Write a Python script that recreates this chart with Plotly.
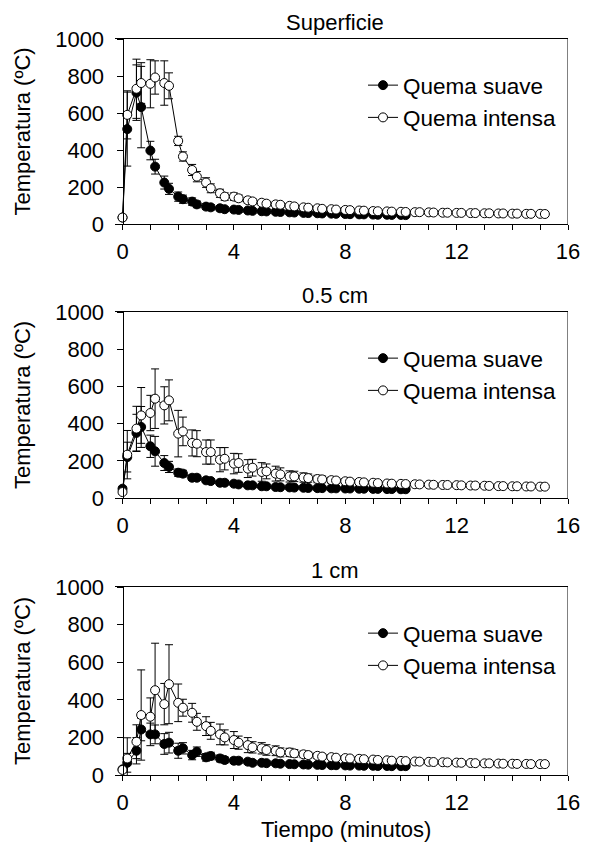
import plotly.graph_objects as go

# ---------------- data ----------------
TIME = [0, 0.17, 0.5, 0.67, 1, 1.17, 1.5, 1.67, 2, 2.17, 2.5, 2.67,
        3, 3.17, 3.5, 3.67, 4, 4.17, 4.5, 4.67, 5, 5.17, 5.5, 5.67,
        6, 6.17, 6.5, 6.67, 7, 7.17, 7.5, 7.67, 8, 8.17, 8.5, 8.67,
        9, 9.17, 9.5, 9.67, 10, 10.17, 10.5, 10.67, 11, 11.17, 11.5, 11.67,
        12, 12.17, 12.5, 12.67, 13, 13.17, 13.5, 13.67, 14, 14.17, 14.5, 14.67,
        15, 15.17]
N_SUAVE = 42  # suave series stop at ~10.2 min

PANELS = ["Superficie", "0.5 cm", "1 cm"]
SERIES = ["Quema suave", "Quema intensa"]

# Superficie
sup_suave = [35, 513, 710, 632, 397, 310, 224, 190, 148, 134, 121, 106,
             94, 90, 85, 80, 78, 76, 73, 71, 69, 68, 66, 65,
             63, 62, 60, 59, 58, 57, 56, 55, 54, 53, 52, 52,
             51, 50, 50, 49, 49, 48]
sup_suave_err = [5, 200, 150, 220, 50, 40, 35, 30, 25, 22, 20, 18,
                 16, 15, 14, 13, 12, 12, 11, 11, 10, 10, 10, 9,
                 9, 9, 8, 8, 8, 8, 8, 7, 7, 7, 7, 7,
                 6, 6, 6, 6, 6, 6]
sup_intensa = [35, 590, 731, 762, 758, 792, 762, 747, 449, 365, 292, 256,
               224, 193, 166, 148, 148, 139, 128, 122, 115, 110, 106, 104,
               98, 95, 90, 88, 85, 82, 80, 78, 76, 75, 73, 72,
               70, 69, 68, 67, 66, 65, 64, 64, 63, 62, 61, 61,
               60, 60, 59, 59, 58, 58, 57, 57, 56, 56, 55, 55,
               55, 54]
sup_intensa_err = [5, 130, 160, 110, 130, 90, 120, 70, 25, 25, 30, 28,
                   26, 24, 22, 20, 20, 18, 16, 15, 14, 13, 12, 12,
                   11, 11, 10, 10, 10, 9, 9, 9, 8, 8, 8, 8,
                   8, 7, 7, 7, 7, 7, 7, 6, 6, 6, 6, 6,
                   6, 6, 6, 6, 5, 5, 5, 5, 5, 5, 5, 5,
                   5, 5]

# 0.5 cm
med_suave = [50, 220, 350, 382, 278, 251, 188, 167, 136, 131, 109, 109,
             95, 91, 82, 82, 77, 73, 68, 68, 63, 63, 59, 58,
             57, 56, 55, 54, 53, 53, 52, 52, 51, 51, 50, 50,
             49, 49, 48, 48, 47, 47]
med_suave_err = [10, 80, 100, 110, 60, 80, 40, 30, 20, 18, 15, 14,
                 12, 12, 11, 11, 10, 10, 10, 9, 9, 9, 8, 8,
                 8, 8, 8, 7, 7, 7, 7, 7, 7, 6, 6, 6,
                 6, 6, 6, 6, 6, 6]
med_intensa = [32, 233, 373, 444, 457, 534, 498, 525, 346, 358, 296, 292,
               247, 247, 206, 211, 185, 188, 158, 163, 140, 143, 131, 127,
               116, 116, 110, 107, 102, 100, 96, 94, 90, 88, 86, 84,
               82, 80, 78, 77, 76, 75, 74, 73, 72, 71, 70, 70,
               69, 68, 67, 67, 66, 65, 64, 64, 63, 63, 62, 62,
               61, 61]
med_intensa_err = [10, 130, 120, 150, 95, 160, 100, 110, 125, 77, 70, 70,
                   65, 65, 65, 60, 55, 50, 48, 45, 50, 40, 40, 35,
                   30, 28, 25, 22, 20, 18, 16, 15, 14, 13, 12, 12,
                   11, 11, 10, 10, 10, 9, 9, 9, 8, 8, 8, 8,
                   8, 7, 7, 7, 7, 7, 6, 6, 6, 6, 6, 6,
                   6, 6]

# 1 cm
deep_suave = [30, 65, 129, 242, 216, 216, 165, 172, 129, 142, 106, 124,
              94, 101, 88, 80, 76, 76, 71, 65, 65, 63, 62, 60,
              58, 57, 56, 55, 54, 53, 52, 52, 51, 50, 50, 49,
              49, 48, 48, 47, 47, 47]
deep_suave_err = [5, 50, 70, 60, 60, 50, 55, 55, 40, 30, 25, 25,
                  20, 20, 18, 16, 15, 14, 13, 12, 12, 11, 11, 10,
                  10, 10, 9, 9, 9, 8, 8, 8, 8, 8, 7, 7,
                  7, 7, 7, 7, 6, 6]
deep_intensa = [27, 88, 177, 319, 310, 451, 377, 483, 384, 358, 331, 283,
                260, 235, 216, 200, 186, 172, 159, 147, 142, 133, 129, 120,
                120, 115, 110, 106, 102, 98, 95, 92, 90, 88, 86, 84,
                82, 80, 78, 76, 75, 74, 72, 71, 70, 69, 68, 67,
                66, 65, 64, 63, 62, 62, 61, 60, 60, 59, 59, 58,
                58, 58]
deep_intensa_err = [5, 110, 90, 240, 100, 250, 110, 210, 100, 45, 50, 45,
                    50, 45, 55, 40, 45, 35, 40, 30, 30, 28, 26, 24,
                    22, 20, 18, 16, 15, 14, 13, 12, 12, 12, 11, 11,
                    11, 10, 10, 10, 10, 9, 9, 9, 9, 8, 8, 8,
                    8, 8, 8, 7, 7, 7, 7, 7, 7, 6, 6, 6,
                    6, 6]

DATA = [
    (sup_suave, sup_suave_err, sup_intensa, sup_intensa_err),
    (med_suave, med_suave_err, med_intensa, med_intensa_err),
    (deep_suave, deep_suave_err, deep_intensa, deep_intensa_err),
]

X_TICKS = [0, 4, 8, 12, 16]
Y_TICKS = [0, 200, 400, 600, 800, 1000]

# ---------------- layout geometry ----------------
W, H = 590, 845
FONT = "Liberation Sans, Arial, sans-serif"
XMIN, XMAX = -0.27, 16
px_left, px_right = 115, 568
x_dom = [px_left / W, px_right / W]
yaxis_pos = x_dom[0] + (0 - XMIN) / (XMAX - XMIN) * (x_dom[1] - x_dom[0])
panel_px = [(39, 224), (312, 498), (587, 775)]  # top, bottom in pixels

fig = go.Figure()
layout = dict(
    width=W, height=H,
    margin=dict(l=0, r=0, t=0, b=0, autoexpand=False),
    paper_bgcolor="white", plot_bgcolor="white",
    font=dict(family=FONT, size=22, color="black"),
    showlegend=True,
    shapes=[], annotations=[],
)

for i, (title, (s, se, it, ie)) in enumerate(zip(PANELS, DATA)):
    n = i + 1
    xa = "x" if n == 1 else f"x{n}"
    ya = "y" if n == 1 else f"y{n}"
    lg = "legend" if n == 1 else f"legend{n}"
    t_s = TIME[:N_SUAVE]
    fig.add_trace(go.Scatter(
        x=t_s, y=s, mode="lines+markers", name=SERIES[0],
        xaxis=xa, yaxis=ya, legend=lg,
        line=dict(color="black", width=1),
        marker=dict(symbol="circle", size=9, color="black",
                    line=dict(color="black", width=1)),
        error_y=dict(type="data", array=se, visible=True,
                     color="black", thickness=1, width=4),
    ))
    fig.add_trace(go.Scatter(
        x=TIME, y=it, mode="lines+markers", name=SERIES[1],
        xaxis=xa, yaxis=ya, legend=lg,
        line=dict(color="black", width=1),
        marker=dict(symbol="circle", size=9, color="white",
                    line=dict(color="black", width=1)),
        error_y=dict(type="data", array=ie, visible=True,
                     color="black", thickness=1, width=4),
    ))
    top, bot = panel_px[i]
    y_dom = [1 - bot / H, 1 - top / H]
    key_x = "xaxis" if n == 1 else f"xaxis{n}"
    key_y = "yaxis" if n == 1 else f"yaxis{n}"
    layout[key_x] = dict(
        domain=x_dom, anchor=ya, range=[XMIN, XMAX],
        tickmode="array", tickvals=X_TICKS, ticktext=[str(v) for v in X_TICKS],
        ticks="outside", ticklen=5, tickwidth=1, tickcolor="black",
        minor=dict(dtick=1, tick0=0, ticks="outside", ticklen=5,
                   tickwidth=1, tickcolor="black", showgrid=False),
        showline=True, linecolor="black", linewidth=1, mirror=True,
        showgrid=False, zeroline=False,
        tickfont=dict(size=22), ticklabelstandoff=3,
    )
    layout[key_y] = dict(
        domain=y_dom, anchor="free", position=yaxis_pos, range=[0, 1000],
        tickmode="array", tickvals=Y_TICKS, ticktext=[str(v) for v in Y_TICKS],
        ticks="outside", ticklen=6, tickwidth=1, tickcolor="black",
        showline=True, linecolor="black", linewidth=1,
        showgrid=False, zeroline=False,
        tickfont=dict(size=22), ticklabelstandoff=8,
    )
    # right border of the frame
    layout["shapes"].append(dict(
        type="line", xref=xa, yref=f"{ya} domain", x0=XMAX, x1=XMAX, y0=0, y1=1,
        line=dict(color="black", width=1)))
    # panel title
    layout["annotations"].append(dict(
        text=title, xref="paper", yref="paper", x=335 / W, y=1 - (top - 17) / H,
        xanchor="center", yanchor="middle", showarrow=False,
        font=dict(size=22)))
    # y-axis title
    layout["annotations"].append(dict(
        text="Temperatura (ºC)", xref="paper", yref="paper",
        x=22 / W, y=1 - (top + bot) / 2 / H, textangle=-90,
        xanchor="center", yanchor="middle", showarrow=False,
        font=dict(size=22)))
    layout[lg] = dict(
        x=363 / W, y=1 - (top + 25) / H, xanchor="left", yanchor="top",
        bgcolor="rgba(0,0,0,0)", borderwidth=0,
        font=dict(size=22.5), tracegroupgap=0, itemwidth=30,
    )

layout["annotations"].append(dict(
    text="Tiempo (minutos)", xref="paper", yref="paper",
    x=346 / W, y=1 - 829 / H, xanchor="center", yanchor="middle",
    showarrow=False, font=dict(size=22)))

fig.update_layout(**layout)
fig.write_html("out.html")
